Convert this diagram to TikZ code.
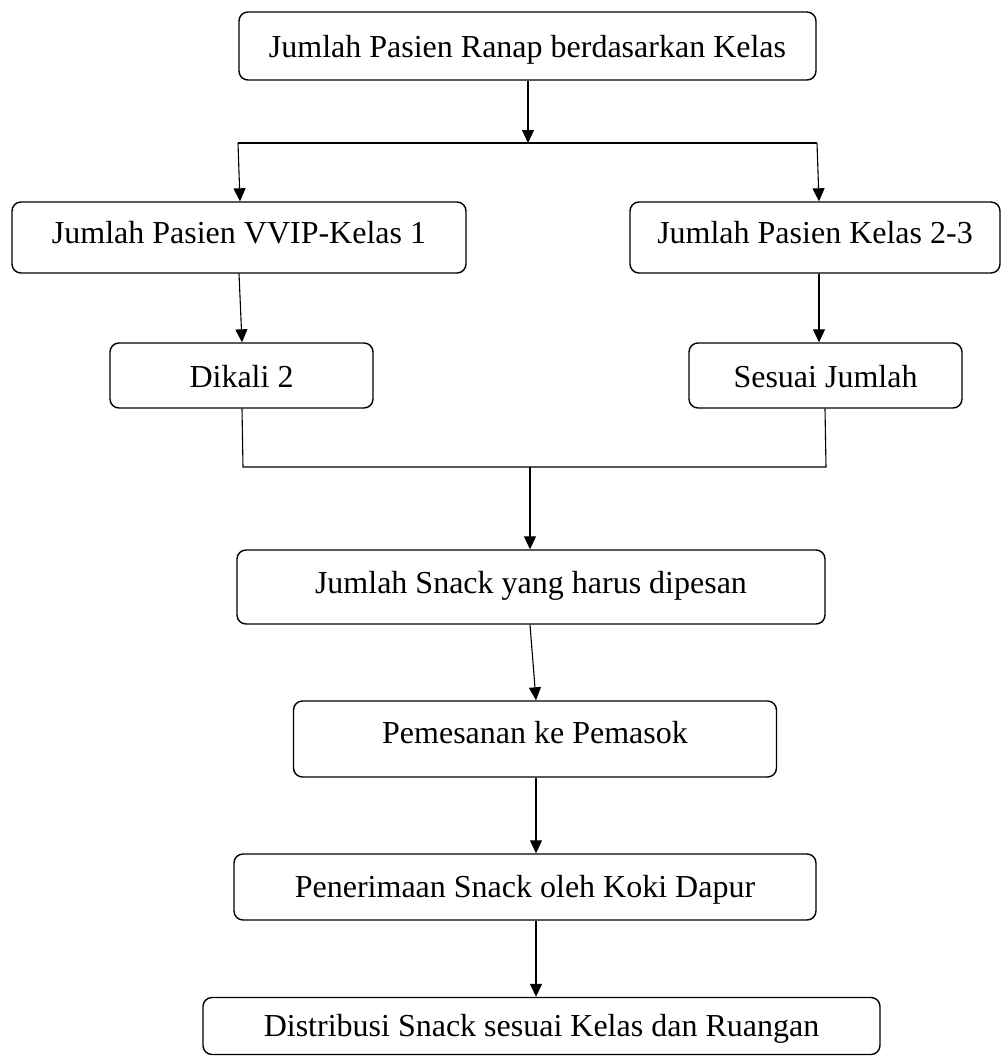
\documentclass[tikz,border=0pt]{standalone}
\usepackage{fontspec}
\setmainfont{Liberation Serif}
\usetikzlibrary{arrows.meta,calc}
\begin{document}
\begin{tikzpicture}[x=1pt,y=-1pt,
  flowbox/.style={draw=black, line width=1.4pt, rounded corners=9pt, inner sep=0pt,
    font=\fontsize{32}{38}\selectfont, text height=23pt, text depth=6pt},
  link/.style={draw=black, line width=1.1pt},
  arr/.style={link, -{Triangle[length=13pt,width=12pt]}}]
  \useasboundingbox (0,0) rectangle (1002,1058);

  % boxes, placed by centre and size
  \node[flowbox, minimum width=577pt, minimum height=68pt, text depth=0pt] (top) at (527.5,46) {Jumlah Pasien Ranap berdasarkan Kelas};
  \node[flowbox, minimum width=454pt, minimum height=71pt, text depth=12pt] (vvip) at (239,237.5) {Jumlah Pasien VVIP-Kelas 1};
  \node[flowbox, minimum width=370pt, minimum height=71pt, text depth=12pt] (kelas) at (815,237.5) {Jumlah Pasien Kelas 2-3};
  \node[flowbox, minimum width=263pt, minimum height=65pt, text depth=0pt] (dikali) at (241.5,375.5) {Dikali 2};
  \node[flowbox, minimum width=273pt, minimum height=65pt, text depth=0pt] (sesuai) at (825.5,375.5) {Sesuai Jumlah};
  \node[flowbox, minimum width=588pt, minimum height=74pt, text depth=11pt] (snack) at (531,587) {Jumlah Snack yang harus dipesan};
  \node[flowbox, minimum width=483pt, minimum height=76pt, text depth=15pt] (pesan) at (535,739) {Pemesanan ke Pemasok};
  \node[flowbox, minimum width=582pt, minimum height=66pt, text depth=3pt] (terima) at (525,887) {Penerimaan Snack oleh Koki Dapur};
  \node[flowbox, minimum width=677pt, minimum height=57pt, text depth=3pt] (distrib) at (541.5,1026) {Distribusi Snack sesuai Kelas dan Ruangan};

  % branching below the first box
  \coordinate (split) at (528,143);
  \coordinate (splitL) at (238,143);
  \coordinate (splitR) at (817,143);
  \draw[arr] (top.south -| split) -- (split);
  \draw[link] (splitL) -- (splitR);
  \draw[arr] (splitL) -- ($(vvip.north -| splitL)+(2,0)$);
  \draw[arr] (splitR) -- ($(kelas.north -| splitR)+(2,0)$);

  % each class group to its rule
  \coordinate (lcol) at (239,0);
  \coordinate (rcol) at (819,0);
  \draw[arr] (vvip.south -| lcol) -- ($(dikali.north -| lcol)+(3,0)$);
  \draw[arr] (kelas.south -| rcol) -- (sesuai.north -| rcol);

  % joining both rules
  \coordinate (joinL) at (243,467);
  \coordinate (joinR) at (826,467);
  \coordinate (join) at (530,467);
  \draw[link] ($(dikali.south -| joinL)+(-1,0)$) -- (joinL) -- (joinR) -- ($(sesuai.south -| joinR)+(-1,0)$);
  \draw[arr] (join) -- (snack.north -| join);

  % the ordering chain
  \coordinate (chain) at (536,0);
  \draw[arr] ($(snack.south)+(-1,0)$) -- (pesan.north -| chain);
  \draw[arr] (pesan.south -| chain) -- (terima.north -| chain);
  \draw[arr] (terima.south -| chain) -- (distrib.north -| chain);
\end{tikzpicture}
\end{document}
